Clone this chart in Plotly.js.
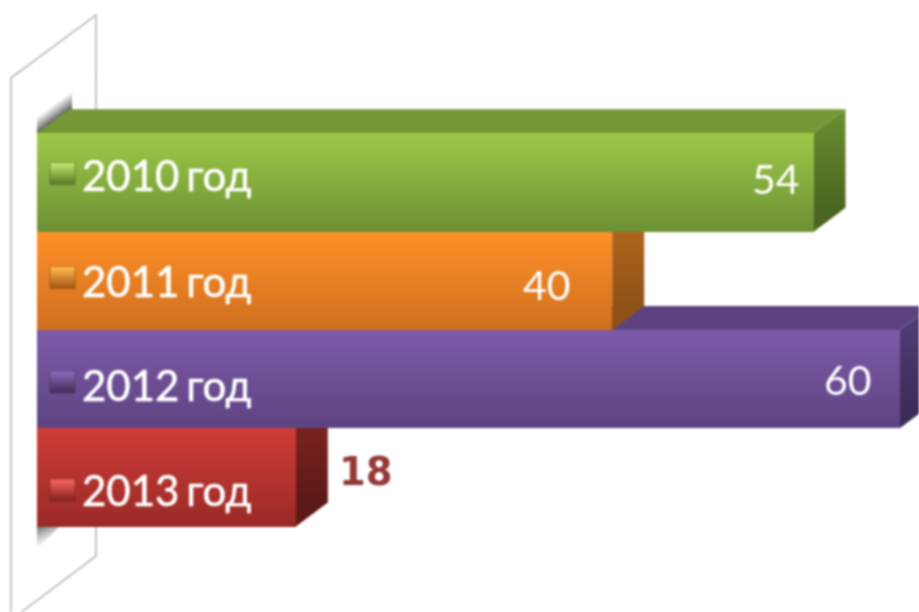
<!DOCTYPE html>
<html>
<head>
<meta charset="utf-8">
<script src="https://cdn.plot.ly/plotly-3.0.1.min.js"></script>
<style>
html,body{margin:0;padding:0;background:#fff;overflow:hidden}
#chart{width:919px;height:612px;filter:blur(0.8px)}
</style>
</head>
<body>
<div id="chart"></div>
<script>
// Data
const years = ['2010 год', '2011 год', '2012 год', '2013 год'];
const values = [54, 40, 60, 18];

// Styles: [top, bottom] of each gradient
const frontColors = [['#9dc949', '#6d9033'], ['#ff9029', '#cf6f1e'], ['#7d5aa9', '#5e4381'], ['#cf3c37', '#992a27']];
const sideColors = [['#6d8e31', '#4a651f'], ['#b8691f', '#8f5216'], ['#55407a', '#3e2c58'], ['#842623', '#5c1917']];
const topColors = ['#759735', '#b0641d', '#5c4380', '#7e2522'];
const swatchColors = [['#bfe36c', '#5f8029'], ['#ffb44c', '#a95d18'], ['#8a66b8', '#46315f'], ['#f2605a', '#8f2623']];
const labelShiftY = [8, -0.5, -6, -13];
const swatchCenters = [173.5, 277.5, 382, 490];
const valueShiftX = [-38, -65, -52, 70];
const valueShiftY = [4, -4, 0, 5.5];
const valueFonts = [
  {family: 'Lato', size: 41, color: '#ffffff'},
  {family: 'Lato', size: 41, color: '#ffffff'},
  {family: 'Lato', size: 41, color: '#ffffff'},
  {family: 'DejaVu Sans', size: 38.5, color: '#953735', weight: 700}
];

// Pixel layout of the picture
const W = 919, H = 612, X0 = 37, XS = 14.38, Y0 = 182.5, YS = 98.3, DX = 32, DY = 24;
const xOf = p => (p - X0) / XS;
const yOf = p => (p - Y0) / YS;
const py = i => Y0 + i * YS;
const idx = years.map((_, i) => i);
const dx = DX / XS, dy = DY / YS;

const shapes = [];
const gradients = {};
function addShape(s, grad) {
  shapes.push(s);
  if (grad) gradients[shapes.length - 1] = grad;
}
const paperPath = pts => 'M' + pts.map(p => (p[0] / W).toFixed(5) + ',' + (1 - p[1] / H).toFixed(5)).join('L') + 'Z';
const dataPath = pts => 'M' + pts.map(p => p[0].toFixed(4) + ',' + p[1].toFixed(4)).join('L') + 'Z';

// Wall
addShape({type: 'path', layer: 'below', xref: 'paper', yref: 'paper',
  path: paperPath([[11, 78], [96, 15], [96, 556], [11, 620]]),
  fillcolor: '#ffffff', line: {color: '#b8b8b8', width: 1.6}});
// Wall shadows
addShape({type: 'path', layer: 'below', xref: 'paper', yref: 'paper',
  path: paperPath([[37, 134], [37, 118], [72, 92], [72, 110]]),
  fillcolor: '#999999', line: {width: 0}},
  {stops: [['#666666', 1], ['#8a8a8a', 0]], x1: 53, y1: 121, x2: 45, y2: 110});
addShape({type: 'path', layer: 'below', xref: 'paper', yref: 'paper',
  path: paperPath([[37, 524], [37, 549], [62, 524]]),
  fillcolor: '#aaaaaa', line: {width: 0}},
  {stops: [['#666666', 0.95], ['#8a8a8a', 0]], x1: 38, y1: 526, x2: 46, y2: 544});

// Top and side faces, painted from the lowest bar upwards
for (let i = years.length - 1; i >= 0; i--) {
  const v = values[i];
  const top = i - 0.5, bot = i + 0.5;
  addShape({type: 'path', layer: 'below', xref: 'x', yref: 'y',
    path: dataPath([[0, top], [dx, top - dy], [v + dx, top - dy], [v, top]]),
    fillcolor: topColors[i], line: {width: 0}});
  addShape({type: 'path', layer: 'below', xref: 'x', yref: 'y',
    path: dataPath([[v, top], [v + dx, top - dy], [v + dx, bot - dy], [v, bot]]),
    fillcolor: sideColors[i][0], line: {width: 0}},
    {stops: [[sideColors[i][0], 1], [sideColors[i][1], 1]], x1: 0, y1: py(i) - YS / 2 - DY, x2: 0, y2: py(i) + YS / 2 - DY});
}

// Legend keys inside the bars
years.forEach((_, i) => {
  const cy = swatchCenters[i];
  addShape({type: 'rect', layer: 'above', xref: 'x', yref: 'y',
    x0: xOf(50), x1: xOf(75), y0: yOf(cy - 11), y1: yOf(cy + 11),
    fillcolor: swatchColors[i][0], line: {color: 'rgba(60,40,20,0.3)', width: 1.2}},
    {stops: [[swatchColors[i][0], 1], [swatchColors[i][1], 1]], x1: 0, y1: cy - 9, x2: 0, y2: cy + 9});
});

const annotations = [];
years.forEach((name, i) => {
  annotations.push({x: 0, y: i, xref: 'x', yref: 'y', text: name, showarrow: false,
    xanchor: 'left', yanchor: 'middle', xshift: 41, yshift: labelShiftY[i],
    font: {family: 'Lato', size: 42, color: '#ffffff'}});
  annotations.push({x: values[i], y: i, xref: 'x', yref: 'y', text: String(values[i]), showarrow: false,
    xanchor: 'center', yanchor: 'middle', xshift: valueShiftX[i], yshift: valueShiftY[i],
    font: valueFonts[i]});
});

const trace = {
  type: 'bar', orientation: 'h', x: values, y: idx, width: 1,
  marker: {color: frontColors.map(c => c[0]), line: {width: 0}},
  hoverinfo: 'none', showlegend: false
};

const layout = {
  width: W, height: H, margin: {l: 0, r: 0, t: 0, b: 0, pad: 0},
  paper_bgcolor: '#ffffff', plot_bgcolor: 'rgba(0,0,0,0)', showlegend: false,
  xaxis: {visible: false, range: [xOf(0), xOf(W)], fixedrange: true},
  yaxis: {visible: false, range: [yOf(H), yOf(0)], fixedrange: true},
  shapes, annotations, bargap: 0
};

function makeGradient(defs, id, g) {
  const NS = 'http://www.w3.org/2000/svg';
  const lg = document.createElementNS(NS, 'linearGradient');
  lg.setAttribute('id', id);
  lg.setAttribute('gradientUnits', 'userSpaceOnUse');
  ['x1', 'y1', 'x2', 'y2'].forEach(k => lg.setAttribute(k, g[k]));
  g.stops.forEach((s, n) => {
    const st = document.createElementNS(NS, 'stop');
    st.setAttribute('offset', n / (g.stops.length - 1));
    st.setAttribute('stop-color', s[0]);
    st.setAttribute('stop-opacity', s[1]);
    lg.appendChild(st);
  });
  defs.appendChild(lg);
}

const gd = document.getElementById('chart');
Plotly.newPlot(gd, [trace], layout, {displayModeBar: false, staticPlot: true}).then(() => {
  const svg = gd.querySelector('svg.main-svg');
  let defs = svg.querySelector('defs');
  if (!defs) { defs = document.createElementNS('http://www.w3.org/2000/svg', 'defs'); svg.appendChild(defs); }
  gd.querySelectorAll('.barlayer .point path').forEach((p, i) => {
    const id = 'front' + i;
    makeGradient(defs, id, {stops: [[frontColors[i][0], 1], [frontColors[i][1], 1]],
      x1: 0, y1: py(i) - YS / 2, x2: 0, y2: py(i) + YS / 2});
    p.style.fill = 'url(#' + id + ')';
  });
  gd.querySelectorAll('.shapelayer path[data-index]').forEach(p => {
    const k = p.getAttribute('data-index');
    if (gradients[k]) {
      const id = 'shape' + k;
      makeGradient(defs, id, gradients[k]);
      p.style.fill = 'url(#' + id + ')';
      p.style.fillOpacity = 1;
    }
  });
  gd.querySelectorAll('.annotation-text').forEach(t => {
    t.style.wordSpacing = '-4px';
    if (t.textContent.length > 2) { t.style.stroke = '#ffffff'; t.style.strokeWidth = '0.5px'; }
  });
});
</script>
</body>
</html>
